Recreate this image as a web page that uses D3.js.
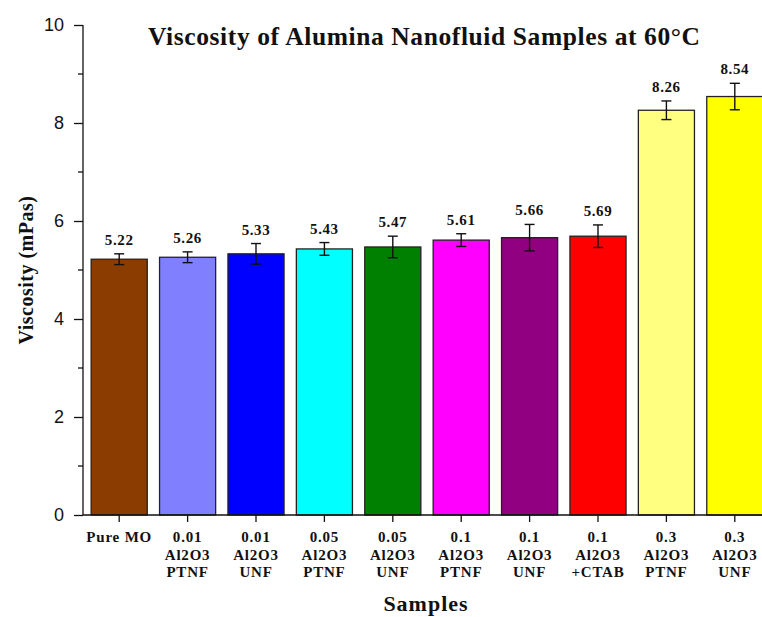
<!DOCTYPE html>
<html>
<head>
<meta charset="utf-8">
<script src="https://cdn.jsdelivr.net/npm/d3@7"></script>
<style>
html,body{margin:0;padding:0;background:#fff;}
svg{display:block;}
</style>
</head>
<body>
<svg id="chart" width="762" height="617"></svg>
<script>
const categories = [
  ["Pure MO"],
  ["0.01","Al2O3","PTNF"],
  ["0.01","Al2O3","UNF"],
  ["0.05","Al2O3","PTNF"],
  ["0.05","Al2O3","UNF"],
  ["0.1","Al2O3","PTNF"],
  ["0.1","Al2O3","UNF"],
  ["0.1","Al2O3","+CTAB"],
  ["0.3","Al2O3","PTNF"],
  ["0.3","Al2O3","UNF"]
];
const values = [5.22, 5.26, 5.33, 5.43, 5.47, 5.61, 5.66, 5.69, 8.26, 8.54];
const errors = [0.11, 0.11, 0.21, 0.13, 0.22, 0.13, 0.27, 0.23, 0.19, 0.27];
const colors = ["#8B3C00","#8080FF","#0000FF","#00FFFF","#008000","#FF00FF","#900080","#FF0000","#FFFF80","#FFFF00"];
const yTicks = [0, 2, 4, 6, 8, 10];
const yMinorTicks = [1, 3, 5, 7, 9];
const title = "Viscosity of Alumina Nanofluid Samples at 60°C";
const xTitle = "Samples";
const yTitle = "Viscosity (mPas)";

const svg = d3.select("#chart");
const serif = "'Liberation Serif','Times New Roman',serif";
const sans = "'Liberation Sans',Arial,sans-serif";

const idx = categories.map((c,i)=>i);
const x = d3.scaleBand().domain(idx).range([85, 769]).paddingInner(0.18).paddingOuter(0.09);
const y = d3.scaleLinear().domain([0, 10]).range([515, 25]);

// bars
svg.append("g").selectAll("rect").data(idx).join("rect")
  .attr("x", i => x(i))
  .attr("y", i => y(values[i]))
  .attr("width", x.bandwidth())
  .attr("height", i => y(0) - y(values[i]))
  .attr("fill", i => colors[i])
  .attr("stroke", "#222")
  .attr("stroke-width", 1.3);

// error bars
const eg = svg.append("g").attr("stroke", "#111").attr("stroke-width", 1.4);
idx.forEach(i => {
  const cx = x(i) + x.bandwidth()/2;
  const t = y(values[i] + errors[i]), b = y(values[i] - errors[i]);
  eg.append("line").attr("x1", cx).attr("x2", cx).attr("y1", t).attr("y2", b);
  eg.append("line").attr("x1", cx-5).attr("x2", cx+5).attr("y1", t).attr("y2", t);
  eg.append("line").attr("x1", cx-5).attr("x2", cx+5).attr("y1", b).attr("y2", b);
});

// value labels
svg.append("g").selectAll("text").data(idx).join("text")
  .attr("x", i => x(i) + x.bandwidth()/2)
  .attr("y", i => y(values[i] + errors[i]) - 9)
  .attr("text-anchor", "middle")
  .attr("font-family", serif)
  .attr("font-weight", "bold")
  .attr("font-size", 15)
  .attr("letter-spacing", 0.6)
  .attr("fill", "#111")
  .text(i => values[i].toFixed(2));

// y axis
const yAxis = svg.append("g").attr("transform", "translate(83,0)")
  .call(d3.axisLeft(y).tickValues(yTicks).tickSize(9).tickPadding(10).tickFormat(d3.format("d")));
yAxis.select(".domain").attr("stroke", "#111").attr("stroke-width", 1.3).attr("d", `M0,${y(10)}V${y(0)}`);
yAxis.selectAll(".tick line").attr("stroke", "#111").attr("stroke-width", 1.3);
yAxis.selectAll(".tick text").attr("font-family", sans).attr("font-size", 18).attr("fill", "#111");
svg.append("g").attr("transform", "translate(83,0)").selectAll("line").data(yMinorTicks).join("line")
  .attr("x1", -5).attr("x2", 0).attr("y1", d => y(d)).attr("y2", d => y(d))
  .attr("stroke", "#111").attr("stroke-width", 1.3);

// x axis
const xAxis = svg.append("g").attr("transform", "translate(0,515)")
  .call(d3.axisBottom(x).tickSize(7).tickFormat(""));
xAxis.select(".domain").attr("stroke", "#111").attr("stroke-width", 1.3).attr("d", `M83,0H769`);
xAxis.selectAll(".tick line").attr("stroke", "#111").attr("stroke-width", 1.3);

// x tick labels (multi-line)
const xl = svg.append("g");
idx.forEach(i => {
  const t = xl.append("text")
    .attr("x", x(i) + x.bandwidth()/2)
    .attr("y", 542)
    .attr("text-anchor", "middle")
    .attr("font-family", serif)
    .attr("font-weight", "bold")
    .attr("font-size", 15)
    .attr("letter-spacing", 0.8)
    .attr("fill", "#111");
  categories[i].forEach((line, k) => {
    t.append("tspan").attr("x", x(i) + x.bandwidth()/2).attr("dy", k === 0 ? 0 : 17.5).text(line);
  });
});

// titles
svg.append("text").attr("x", 424).attr("y", 45).attr("text-anchor", "middle")
  .attr("font-family", serif).attr("font-weight", "bold").attr("font-size", 25.5).attr("fill", "#111")
  .attr("textLength", 552).attr("lengthAdjust", "spacing")
  .text(title);
svg.append("text").attr("x", 426).attr("y", 611).attr("text-anchor", "middle")
  .attr("font-family", serif).attr("font-weight", "bold").attr("font-size", 22).attr("letter-spacing", 1)
  .attr("fill", "#111")
  .text(xTitle);
svg.append("text").attr("transform", "translate(33,270) rotate(-90)").attr("text-anchor", "middle")
  .attr("font-family", serif).attr("font-weight", "bold").attr("font-size", 20).attr("letter-spacing", 0.5)
  .attr("fill", "#111")
  .text(yTitle);
</script>
</body>
</html>
